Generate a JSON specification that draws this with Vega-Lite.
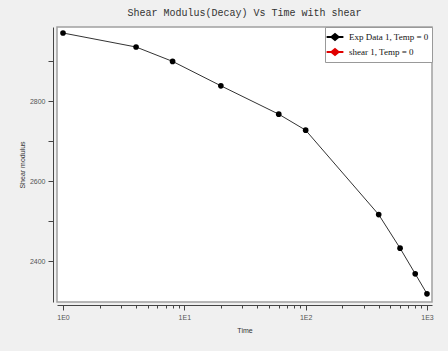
{
  "$schema": "https://vega.github.io/schema/vega-lite/v6.json",
  "width": 375,
  "height": 275,
  "autosize": {"type": "none"},
  "padding": {"left": 57, "top": 27, "right": 16, "bottom": 49},
  "background": "#f0f0f0",
  "title": {
    "text": "Shear Modulus(Decay) Vs Time with shear",
    "font": "Liberation Mono",
    "fontSize": 10,
    "fontWeight": "normal",
    "color": "#333333",
    "offset": 9
  },
  "config": {
    "view": {"fill": "white", "stroke": "#a0a0a0", "strokeWidth": 1.5},
    "axis": {
      "labelFont": "Liberation Sans",
      "labelFontSize": 7,
      "labelColor": "#555555",
      "titleFont": "Liberation Sans",
      "titleFontSize": 7,
      "titleFontWeight": "normal",
      "titleColor": "#333333",
      "domainColor": "#444444",
      "tickColor": "#444444",
      "grid": false
    }
  },
  "data": {
    "values": [
      {"time": 1, "modulus": 2970, "series": "Exp Data 1, Temp = 0"},
      {"time": 4, "modulus": 2935, "series": "Exp Data 1, Temp = 0"},
      {"time": 8, "modulus": 2899, "series": "Exp Data 1, Temp = 0"},
      {"time": 20, "modulus": 2838, "series": "Exp Data 1, Temp = 0"},
      {"time": 60, "modulus": 2767, "series": "Exp Data 1, Temp = 0"},
      {"time": 100, "modulus": 2727, "series": "Exp Data 1, Temp = 0"},
      {"time": 400, "modulus": 2516, "series": "Exp Data 1, Temp = 0"},
      {"time": 600, "modulus": 2432, "series": "Exp Data 1, Temp = 0"},
      {"time": 800, "modulus": 2368, "series": "Exp Data 1, Temp = 0"},
      {"time": 1000, "modulus": 2318, "series": "Exp Data 1, Temp = 0"}
    ]
  },
  "encoding": {
    "x": {
      "field": "time", "type": "quantitative",
      "scale": {"type": "log", "domain": [0.892, 1100], "nice": false},
      "axis": {
        "orient": "bottom",
        "title": "Time",
        "values": [1, 2, 3, 4, 5, 6, 7, 8, 9, 10, 20, 30, 40, 50, 60, 70, 80, 90, 100, 200, 300, 400, 500, 600, 700, 800, 900, 1000],
        "labelExpr": "abs(log(datum.value) / LN10 - round(log(datum.value) / LN10)) < 0.001 ? '1E' + round(log(datum.value) / LN10) : ''",
        "tickSize": {"condition": {"test": "abs(log(datum.value) / LN10 - round(log(datum.value) / LN10)) < 0.001", "value": 5}, "value": 3},
        "labelOverlap": false,
        "offset": 3,
        "labelPadding": 3,
        "titlePadding": 6,
        "labelFlush": false
      }
    },
    "y": {
      "field": "modulus", "type": "quantitative",
      "scale": {"domain": [2297.5, 2985], "nice": false, "zero": false},
      "axis": {
        "orient": "left",
        "title": "Shear modulus",
        "values": [2400, 2500, 2600, 2700, 2800, 2900],
        "labelExpr": "datum.value % 200 == 0 ? format(datum.value, 'd') : ''",
        "tickSize": 5,
        "labelOverlap": false,
        "offset": 4,
        "labelPadding": 3,
        "titlePadding": 4
      }
    }
  },
  "layer": [
    {
      "mark": {"type": "line", "strokeWidth": 1, "color": "#333333"}
    },
    {
      "mark": {"type": "point", "filled": true, "size": 32, "opacity": 1},
      "encoding": {
        "color": {
          "field": "series", "type": "nominal",
          "scale": {"domain": ["Exp Data 1, Temp = 0", "shear 1, Temp = 0"], "range": ["#000000", "#e00000"]},
          "legend": {
            "title": null,
            "orient": "top-right",
            "offset": 0,
            "fillColor": "white",
            "strokeColor": "#999999",
            "padding": 3,
            "rowPadding": 1,
            "labelFont": "Liberation Serif",
            "labelFontSize": 9,
            "labelColor": "#111111",
            "symbolType": "M-1.4,0L1.4,0M-0.6,0L0,-0.5L0.6,0L0,0.5Z",
            "symbolSize": 144,
            "symbolStrokeWidth": 2,
            "symbolOpacity": 1,
            "labelOffset": 7,
            "encode": {
              "symbols": {"update": {"stroke": {"scale": "color", "field": "value"}, "fill": {"scale": "color", "field": "value"}, "strokeWidth": {"value": 2}}}
            }
          }
        }
      }
    }
  ]
}
